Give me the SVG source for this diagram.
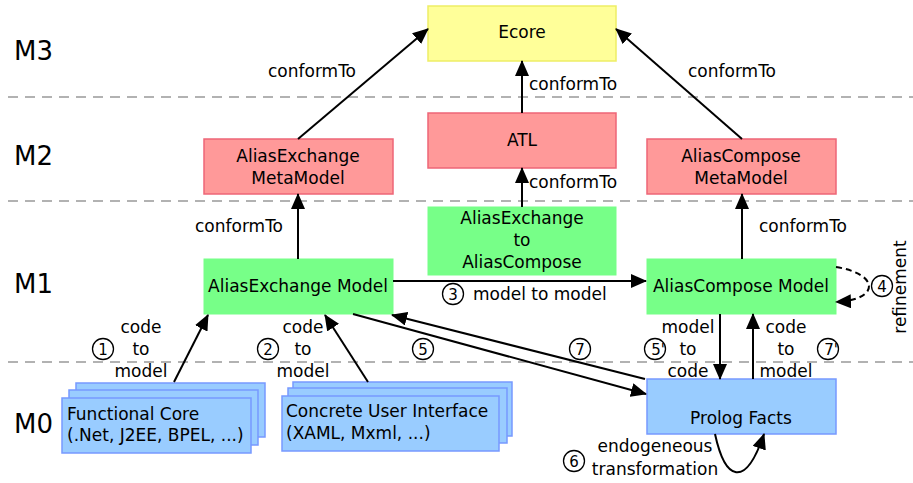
<svg xmlns="http://www.w3.org/2000/svg" width="913" height="483" viewBox="0 0 913 483">
<style>
text{font-family:"DejaVu Sans","Noto Sans",sans-serif;font-size:17px;fill:#000}
.lvl{font-size:26px}
.c{text-anchor:middle}
.sep{stroke:#999;stroke-width:1.5;stroke-dasharray:10 7;fill:none}
.yel{fill:#ffff99;stroke:#eeee66;stroke-width:1.5}
.pink{fill:#ff9999;stroke:#ee6677;stroke-width:1.5}
.green{fill:#77ff88;stroke:#77ff88;stroke-width:1}
.blue{fill:#99ccff;stroke:#7799ff;stroke-width:1.5}
.arr{stroke:#000;stroke-width:2;fill:none;marker-end:url(#ah)}
.dash{stroke:#000;stroke-width:2;fill:none;stroke-dasharray:6 4;marker-end:url(#ah)}
.circ{fill:none;stroke:#000;stroke-width:1.3}
.num{font-size:15px;text-anchor:middle}
</style>
<defs>
<marker id="ah" markerUnits="userSpaceOnUse" markerWidth="16" markerHeight="14" refX="15" refY="7" orient="auto">
<path d="M0,0 L16,7 L0,14 z" fill="#000"/>
</marker>
</defs>

<g id="levels">
<line class="sep" x1="8" y1="97" x2="913" y2="97"/>
<line class="sep" x1="8" y1="201" x2="913" y2="201"/>
<line class="sep" x1="8" y1="362" x2="913" y2="362"/>
<text class="lvl" x="14" y="60">M3</text>
<text class="lvl" x="14" y="165">M2</text>
<text class="lvl" x="14" y="293">M1</text>
<text class="lvl" x="14" y="433">M0</text>
</g>

<g id="ecore"><rect class="yel" x="428" y="6" width="188" height="55"/><text class="c" x="522" y="38">Ecore</text></g>
<g id="atl"><rect class="pink" x="428" y="113" width="188" height="55"/><text class="c" x="522" y="146">ATL</text></g>
<g id="aliasExchangeMM"><rect class="pink" x="204" y="139" width="189" height="55"/><text class="c" x="298" y="162">AliasExchange</text><text class="c" x="298" y="184">MetaModel</text></g>
<g id="aliasComposeMM"><rect class="pink" x="647" y="139" width="189" height="55"/><text class="c" x="741" y="162">AliasCompose</text><text class="c" x="741" y="184">MetaModel</text></g>
<g id="transfo"><rect class="green" x="428" y="207" width="188" height="68"/><text class="c" x="522" y="224">AliasExchange</text><text class="c" x="522" y="246">to</text><text class="c" x="522" y="268">AliasCompose</text></g>
<g id="aliasExchangeModel"><rect class="green" x="204" y="259" width="189" height="55"/><text class="c" x="298" y="292">AliasExchange Model</text></g>
<g id="aliasComposeModel"><rect class="green" x="647" y="259" width="189" height="55"/><text class="c" x="741" y="292">AliasCompose Model</text></g>
<g id="prolog"><rect class="blue" x="647" y="379" width="189" height="55"/><text class="c" x="741" y="424">Prolog Facts</text></g>

<g id="functionalCore">
<rect class="blue" x="76" y="383" width="189" height="54"/>
<rect class="blue" x="69" y="390" width="189" height="55"/>
<rect class="blue" x="62" y="398" width="189" height="55"/>
<text x="67" y="420">Functional Core</text><text x="67" y="441">(.Net, J2EE, BPEL, ...)</text>
</g>
<g id="concreteUI">
<rect class="blue" x="293" y="382" width="219" height="54"/>
<rect class="blue" x="288" y="388" width="219" height="55"/>
<rect class="blue" x="282" y="396" width="217" height="55"/>
<text x="286" y="417">Concrete User Interface</text><text x="286" y="439">(XAML, Mxml, ...)</text>
</g>

<g id="connectors">
<line class="arr" x1="298" y1="139" x2="428" y2="29"/>
<line class="arr" x1="522" y1="113" x2="522" y2="61"/>
<line class="arr" x1="742" y1="139" x2="616" y2="29"/>
<line class="arr" x1="522" y1="207" x2="522" y2="168"/>
<line class="arr" x1="298" y1="259" x2="298" y2="194"/>
<line class="arr" x1="742" y1="259" x2="742" y2="194"/>
<line class="arr" x1="393" y1="281" x2="646" y2="281"/>
<path class="dash" d="M836,267 C880,274 880,300 836,302"/>
<line class="arr" x1="174" y1="382" x2="208" y2="315"/>
<line class="arr" x1="368" y1="382" x2="325" y2="315"/>
<line class="arr" x1="353" y1="314" x2="646" y2="394"/>
<line class="arr" x1="645" y1="379" x2="392" y2="315"/>
<line class="arr" x1="720" y1="314" x2="720" y2="379"/>
<line class="arr" x1="753" y1="379" x2="753" y2="314"/>
<path class="arr" d="M715,434 C725,480 745,490 764,434"/>
</g>

<g id="labels">
<text class="c" x="312" y="77">conformTo</text>
<text x="529" y="90">conformTo</text>
<text class="c" x="732" y="77">conformTo</text>
<text x="529" y="188">conformTo</text>
<text class="c" x="239" y="232">conformTo</text>
<text class="c" x="803" y="232">conformTo</text>
<text x="473" y="300">model to model</text>
<text class="c" x="141" y="333">code</text><text class="c" x="141" y="355">to</text><text class="c" x="141" y="377">model</text>
<text class="c" x="303" y="333">code</text><text class="c" x="303" y="355">to</text><text class="c" x="303" y="377">model</text>
<text class="c" x="688" y="333">model</text><text class="c" x="688" y="355">to</text><text class="c" x="688" y="377">code</text>
<text class="c" x="786" y="333">code</text><text class="c" x="786" y="355">to</text><text class="c" x="786" y="377">model</text>
<text class="c" x="655" y="452">endogeneous</text>
<text class="c" x="655" y="475">transformation</text>
<text class="c" transform="translate(906,287) rotate(-90)">refinement</text>
</g>

<g id="steps">
<circle class="circ" cx="103" cy="349" r="10.5"/><text class="num" x="103" y="355">1</text>
<circle class="circ" cx="268" cy="349" r="10.5"/><text class="num" x="268" y="355">2</text>
<circle class="circ" cx="453" cy="294" r="10.5"/><text class="num" x="453" y="300">3</text>
<circle class="circ" cx="882" cy="286" r="10.5"/><text class="num" x="882" y="292">4</text>
<circle class="circ" cx="423" cy="349" r="10.5"/><text class="num" x="423" y="355">5</text>
<circle class="circ" cx="655" cy="349" r="10.5"/><text class="num" x="658" y="355">5'</text>
<circle class="circ" cx="574" cy="461" r="10.5"/><text class="num" x="574" y="467">6</text>
<circle class="circ" cx="580" cy="349" r="10.5"/><text class="num" x="580" y="355">7</text>
<circle class="circ" cx="828" cy="349" r="10.5"/><text class="num" x="831" y="355">7'</text>
</g>
</svg>
